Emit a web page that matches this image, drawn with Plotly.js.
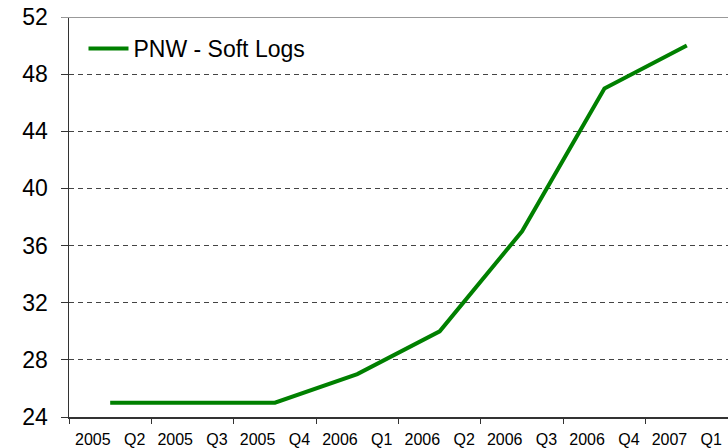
<!DOCTYPE html>
<html>
<head>
<meta charset="utf-8">
<script src="https://cdn.plot.ly/plotly-3.0.1.min.js"></script>
<style>
    html, body { margin: 0; padding: 0; background: #fff; }
    #chart { width: 728px; height: 448px; }
</style>
</head>
<body>
<div id="chart"></div>
<script>
const QUARTERS = ["2005 Q2", "2005 Q3", "2005 Q4", "2006 Q1", "2006 Q2", "2006 Q3", "2006 Q4", "2007 Q1"];
const QUARTER_LABELS = QUARTERS.map(q => q.replace(" ", "\u00a0\u00a0\u00a0"));
const SOFT_LOGS = [25, 25, 25, 27, 30, 37, 47, 50];
const SERIES_NAME = "PNW - Soft Logs";

const Y_MIN = 24;
const Y_MAX = 52;

const DIV = document.querySelector("#chart");
const FONT = "Arial, 'Liberation Sans', sans-serif";
const CONFIG = { staticPlot: true };

function line() {

    let trace = {
        x: QUARTERS,
        y: SOFT_LOGS,
        name: SERIES_NAME,
        type: "scatter",
        mode: "lines",
        line: { color: "#008000", width: 4 }
    };

    let data = [ trace ];

    let layout = {
        width: 728,
        height: 448,
        margin: { l: 69, r: 0, t: 17, b: 31 },
        paper_bgcolor: "#fff",
        plot_bgcolor: "#fff",
        font: { family: FONT, color: "#000" },
        showlegend: true,
        legend: {
            x: 0.022, y: 0.975,
            xanchor: "left", yanchor: "top",
            bgcolor: "rgba(0,0,0,0)",
            font: { size: 23, family: FONT },
            itemwidth: 40
        },
        xaxis: {
            type: "category",
            tickmode: "array",
            tickvals: QUARTERS,
            ticktext: QUARTER_LABELS,
            tickson: "boundaries",
            ticks: "outside",
            ticklen: 5,
            tickcolor: "#333",
            showline: true,
            linecolor: "#333",
            linewidth: 1.5,
            showgrid: false,
            zeroline: false,
            ticklabelstandoff: 7,
            tickfont: { size: 16 },
            range: [-0.5, QUARTERS.length - 0.5]
        },
        yaxis: {
            range: [Y_MIN, Y_MAX],
            dtick: 4,
            tick0: Y_MIN,
            ticks: "outside",
            ticklen: 7,
            tickcolor: "#333",
            showline: true,
            linecolor: "#333",
            linewidth: 1.5,
            showgrid: true,
            gridcolor: "#444",
            griddash: "5px,4px",
            gridwidth: 1,
            zeroline: false,
            ticklabelstandoff: 8,
            tickfont: { size: 23 }
        },
        shapes: [
            {
                type: "line", xref: "paper", yref: "y",
                x0: -0.012, x1: 1, y0: Y_MAX, y1: Y_MAX,
                line: { color: "#999", width: 2 }
            }
        ]
    };

    Plotly.newPlot(DIV, data, layout, CONFIG);
}

line();
</script>
</body>
</html>
